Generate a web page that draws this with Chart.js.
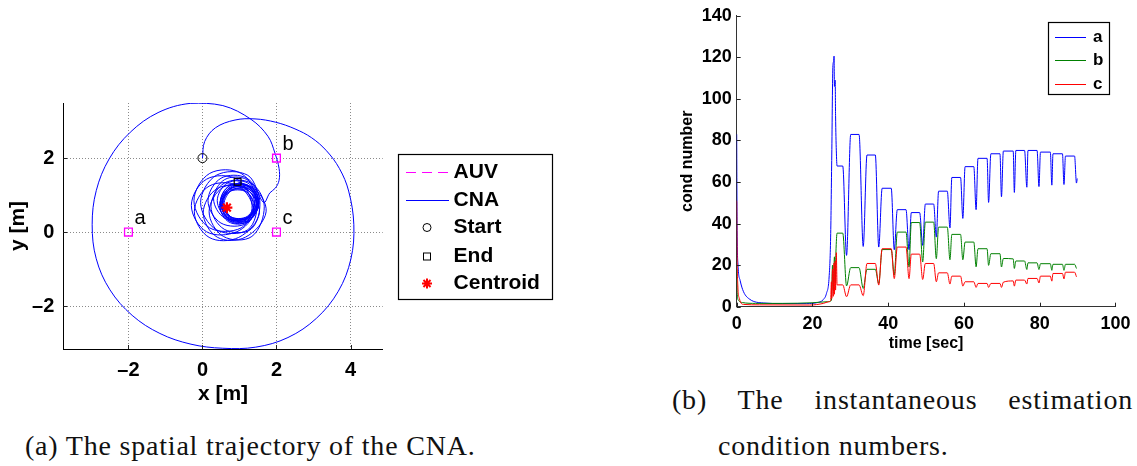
<!DOCTYPE html>
<html>
<head>
<meta charset="utf-8">
<script src="https://cdn.jsdelivr.net/npm/chart.js@4.4.1/dist/chart.umd.min.js"></script>
<style>
    body { margin: 0; background: #fff; width: 1137px; height: 466px; position: relative; overflow: hidden; }
    canvas { position: absolute; }
    #trajChart { left: 0; top: 0; width: 570px; height: 420px; }
    #condChart { left: 640px; top: 0; width: 497px; height: 360px; }
    .caption { position: absolute; font-family: "Liberation Serif", "DejaVu Serif", serif; font-size: 28px; line-height: 30px; letter-spacing: 0.8px; color: #111; white-space: nowrap; }
    #capA { left: 25px; top: 431px; }
    #capB1 { left: 672px; top: 385px; width: 461px; text-align: justify; text-align-last: justify; white-space: normal; }
    #capB2 { left: 718px; top: 431px; }
</style>
</head>
<body>
<canvas id="trajChart" width="570" height="420"></canvas>
<canvas id="condChart" width="497" height="360"></canvas>
<div class="caption" id="capA">(a) The spatial trajectory of the CNA.</div>
<div class="caption" id="capB1">(b) The instantaneous estimation</div>
<div class="caption" id="capB2">condition numbers.</div>

<script>
// ---- trajectory plot data ----
const xTicks = [-2, 0, 2, 4];
const yTicks = [-2, 0, 2];

const auvNames = ['a', 'b', 'c'];
const auvX = [-2, 2, 2];
const auvY = [0, 2, 0];

const startPos = [0, 2];
const endPos = [0.95, 1.36];
const centroidPos = [0.66, 0.66];

// first wide sweep of the CNA, from the start point around and back in
const cnaOuter = [
    [0, 2], [0.06, 2.45], [0.35, 2.82], [0.88, 3.03], [1.42, 3.06], [1.98, 2.97], [2.5, 2.79],
    [2.95, 2.55], [3.35, 2.2], [3.7, 1.72], [3.95, 1.11], [4.09, 0.2], [4.01, -0.73], [3.67, -1.60],
    [3.08, -2.33], [2.31, -2.85], [1.44, -3.11], [0.55, -3.14], [-0.31, -3.03], [-1.15, -2.74],
    [-1.90, -2.25], [-2.50, -1.56], [-2.87, -0.72], [-2.98, 0.2], [-2.87, 1.12], [-2.52, 1.98],
    [-1.95, 2.70], [-1.20, 3.23], [-0.33, 3.48], [0.55, 3.42], [1.31, 3.05], [1.77, 2.59],
    [1.96, 2.13], [2.07, 1.72], [2.07, 1.40], [1.97, 1.19], [1.82, 1.06]
];

// small loops around the centroid, ending at the end marker
const cnaLoops = [
    [1.65, 0.80], [1.225, 1.536], [0.375, 1.536], [-0.05, 0.80], [0.375, 0.064], [1.225, 0.064],
    [1.47, 0.85], [1.045, 1.586], [0.195, 1.586], [-0.23, 0.85], [0.195, 0.114], [1.045, 0.114],
    [1.34, 0.72], [0.93, 1.43], [0.11, 1.43], [-0.30, 0.72], [0.11, 0.01], [0.93, 0.01],
    [1.38, 0.55], [0.98, 1.243], [0.18, 1.243], [-0.22, 0.55], [0.18, -0.143], [0.98, -0.143],
    [1.54, 0.52], [1.16, 1.178], [0.40, 1.178], [0.02, 0.52], [0.40, -0.138], [1.16, -0.138],
    [1.72, 0.55], [1.335, 1.217], [0.565, 1.217], [0.18, 0.55], [0.565, -0.117], [1.335, -0.117],
    [1.67, 0.70], [1.31, 1.324], [0.59, 1.324], [0.23, 0.70], [0.59, 0.076], [1.31, 0.076],
    [1.55, 0.85], [1.20, 1.456], [0.50, 1.456], [0.15, 0.85], [0.50, 0.244], [1.20, 0.244],
    [1.50, 0.90], [1.20, 1.42], [0.60, 1.42], [0.30, 0.90], [0.60, 0.38], [1.20, 0.38],
    [1.50, 0.85], [1.225, 1.326], [0.675, 1.326], [0.40, 0.85], [0.675, 0.374], [1.225, 0.374],
    [1.52, 0.80], [1.26, 1.25], [0.74, 1.25], [0.48, 0.80], [0.74, 0.35], [1.26, 0.35],
    [1.52, 0.75], [1.27, 1.183], [0.77, 1.183], [0.52, 0.75], [0.77, 0.317], [1.27, 0.317],
    [1.48, 0.70], [1.24, 1.116], [0.76, 1.116], [0.52, 0.70], [0.76, 0.284], [1.24, 0.284],
    [1.42, 0.68], [1.185, 1.087], [0.715, 1.087], [0.48, 0.68], [0.715, 0.273], [1.185, 0.273],
    [1.38, 0.72], [1.15, 1.118], [0.69, 1.118], [0.46, 0.72], [0.69, 0.322], [1.15, 0.322],
    [1.41, 0.78], [1.18, 1.178], [0.72, 1.178], [0.49, 0.78], [0.72, 0.382], [1.18, 0.382],
    [1.47, 0.82], [1.235, 1.227], [0.765, 1.227], [0.53, 0.82], [0.765, 0.413], [1.235, 0.413],
    [1.53, 0.80], [1.29, 1.216], [0.81, 1.216], [0.57, 0.80], [0.81, 0.384], [1.29, 0.384],
    [1.52, 0.74], [1.285, 1.147], [0.815, 1.147], [0.58, 0.74], [0.815, 0.333], [1.285, 0.333],
    [1.46, 0.78], [1.23, 1.178], [0.77, 1.178], [0.54, 0.78], [0.77, 0.382], [1.23, 0.382],
    [1.45, 0.84], [1.21, 1.256], [0.73, 1.256], [0.49, 0.84], [0.73, 0.424], [1.21, 0.424],
    [1.43, 0.88], [1.29, 1.22], [0.95, 1.36]
];

// ---- condition number data ----
const timeTicks = [0, 20, 40, 60, 80, 100];
const condTicks = [0, 20, 40, 60, 80, 100, 120, 140];

const timeA = [0, 0.1, 0.35, 0.9, 1.8, 3.5, 7, 12, 18.5, 21.1, 22.9, 23.7, 24.4, 24.8, 25.1, 25.4, 25.6, 25.7,
    25.8, 26.0, 26.1, 26.3, 26.5, 28.0, 29.0, 30.1, 32.3, 33.4, 34.4, 36.6, 37.5, 38.4, 40.8, 41.6, 42.4,
    44.7, 45.5, 46.1, 48.3, 49.1, 49.8, 52.0, 52.7, 53.3, 55.6, 56.3, 56.8, 59.1, 59.7, 60.3, 62.6, 63.2,
    63.7, 66.1, 66.5, 67.1, 69.5, 69.9, 70.4, 73.0, 73.3, 73.7, 76.0, 76.6, 76.9, 79.3, 79.8, 80.2, 82.8,
    83.2, 83.5, 86.0, 86.4, 86.8, 89.2, 89.7, 89.9];
const condA = [83, 40, 20, 12.7, 7.2, 3.5, 1.8, 1.5, 1.5, 1.9, 3.5, 6.4, 14.3, 33.5, 73, 116, 118, 120.6,
    106, 109, 92, 75, 67.7, 67.7, 24.7, 82.9, 82.9, 29, 73, 73, 28.7, 57, 57, 27.4, 46.7,
    46.7, 27.4, 45.3, 45.3, 29.5, 49.4, 49.4, 33.5, 55.6, 55.6, 37.9, 62.2, 62.2, 42.5, 67.4, 67.4, 46.7,
    71.4, 71.4, 50.2, 73.6, 73.6, 52.9, 74.9, 74.9, 55, 75.2, 75.2, 57.5, 75.2, 75.2, 57.8, 74.4, 74.4,
    58.5, 73.6, 73.6, 58.8, 72.5, 72.5, 59.5, 61.7];

const timeB = [0, 0.15, 0.5, 1.5, 5, 12, 20, 24, 25.0, 25.3, 25.5, 25.8, 26.0, 26.2, 26.5, 28.0, 29.0, 30.1,
    32.3, 33.4, 34.4, 36.6, 37.5, 38.4, 40.8, 41.6, 42.4, 44.7, 45.5, 46.1, 48.3, 49.1, 49.8, 52.0, 52.7,
    53.3, 55.6, 56.3, 56.8, 59.1, 59.7, 60.3, 62.6, 63.2, 63.7, 66.1, 66.5, 67.1, 69.5, 69.9, 70.4, 73.0,
    73.3, 73.7, 76.0, 76.6, 76.9, 79.3, 79.8, 80.2, 82.8, 83.2, 83.5, 86.0, 86.4, 86.8, 89.2, 89.7];
const condB = [18, 6, 3, 2, 1.6, 1.6, 1.9, 2.4, 3, 20, 8, 24, 12, 26.3, 35.4, 35.4, 10, 18.8,
    18.8, 8.8, 18, 18, 11.2, 27.5, 27.5, 15.2, 35.9, 35.9, 19.1, 40.5, 40.5, 21.5, 40.7, 40.7, 23.1,
    38.3, 38.3, 22.6, 34.8, 34.8, 22.6, 31.1, 31.1, 19.2, 27.9, 27.9, 19.9, 25.5, 25.5, 19.1, 23.2, 23.0,
    18.4, 22.0, 22.0, 17.9, 21.1, 21.1, 17.9, 20.7, 20.7, 17.5, 20.4, 20.4, 17.5, 20.4, 20.4, 18.4];

const timeC = [0, 0.1, 0.3, 0.7, 1.8, 6, 19.3, 22.9, 24.3, 24.8, 25.0, 25.1, 25.3, 25.5, 25.7, 25.8, 26.0,
    26.1, 26.3, 26.5, 28.0, 29.0, 30.1, 32.3, 33.4, 34.4, 36.6, 37.5, 38.4, 40.8, 41.6, 42.4, 44.7, 45.5,
    46.1, 48.3, 49.1, 49.8, 52.0, 52.7, 53.3, 55.6, 56.3, 56.8, 59.1, 59.7, 60.3, 62.6, 63.2, 63.7, 66.1,
    66.5, 67.1, 69.5, 69.9, 70.4, 73.0, 73.3, 73.7, 76.0, 76.6, 76.9, 79.3, 79.8, 80.2, 82.8, 83.2, 83.5,
    86.0, 86.4, 86.8, 89.2, 89.7];
const condC = [51, 25, 10, 4, 1.1, 0.9, 0.8, 1.6, 2.4, 3, 12, 4, 18, 5, 21, 6, 22,
    8, 26, 10.5, 10.5, 4.8, 10.5, 10.5, 5.3, 20.8, 20.8, 10.4, 27.9, 27.9, 13.5, 28.7, 28.7, 13.5,
    25.3, 25.3, 13.1, 20.8, 20.8, 12, 16.3, 16.3, 10.9, 14.7, 14.7, 9.9, 12.0, 12.0, 9.3, 11.2, 11.2,
    9.3, 11.2, 11.2, 9.3, 11.8, 12.4, 9.9, 12.8, 12.8, 10.9, 13.6, 13.6, 11.4, 14.7, 14.7, 12.3, 16,
    16, 13.4, 16.6, 16.6, 14.4];

const seriesNames = ['a', 'b', 'c'];
const seriesColors = ['#0000ff', '#008000', '#ff0000'];

const sansFamily = "'Liberation Sans', Arial, Helvetica, sans-serif";
Chart.defaults.font.family = sansFamily;
Chart.defaults.color = '#000';

function toPoints(xs, ys) {
    return xs.map((v, i) => ({ x: v, y: ys[i] }));
}

function fmtTick(v) {
    return v < 0 ? '\u2013' + Math.abs(v) : String(v);
}

function crisp(v) {
    return Math.round(v) + 0.5;
}

// small tick marks pointing into the plot, like the MATLAB axes
const inwardTicks = {
    id: 'inwardTicks',
    afterDraw(chart) {
        const { ctx, chartArea, scales } = chart;
        ctx.save();
        ctx.strokeStyle = '#222';
        ctx.lineWidth = 1;
        ctx.beginPath();
        scales.x.ticks.forEach(t => {
            const px = crisp(scales.x.getPixelForValue(t.value));
            ctx.moveTo(px, chartArea.bottom);
            ctx.lineTo(px, chartArea.bottom - 4);
        });
        scales.y.ticks.forEach(t => {
            const py = crisp(scales.y.getPixelForValue(t.value));
            ctx.moveTo(chartArea.left, py);
            ctx.lineTo(chartArea.left + 4, py);
        });
        ctx.stroke();
        ctx.restore();
    }
};

// AUV name next to each AUV marker
const auvLabels = {
    id: 'auvLabels',
    afterDatasetsDraw(chart) {
        const { ctx, scales } = chart;
        ctx.save();
        ctx.font = '20px ' + sansFamily;
        ctx.fillStyle = '#000';
        ctx.textBaseline = 'middle';
        ctx.textAlign = 'left';
        auvNames.forEach((name, i) => {
            const px = scales.x.getPixelForValue(auvX[i]);
            const py = scales.y.getPixelForValue(auvY[i]);
            ctx.fillText(name, px + 6, py - 14);
        });
        ctx.restore();
    }
};

// boxed legend to the right of the trajectory axes
const trajLegend = {
    id: 'trajLegend',
    afterDraw(chart) {
        const { ctx, chartArea } = chart;
        const w = 154, h = 145;
        const left = Math.round(chartArea.right + 15);
        const top = Math.round((chartArea.top + chartArea.bottom) / 2 - h / 2);
        const rows = [17.7, 46, 73.3, 102, 129.3].map(r => crisp(top + r));
        const names = ['AUV', 'CNA', 'Start', 'End', 'Centroid'];
        const mx = left + 29;
        ctx.save();
        ctx.fillStyle = '#fff';
        ctx.fillRect(left, top, w, h);
        ctx.strokeStyle = '#000';
        ctx.lineWidth = 1.2;
        ctx.strokeRect(left + 0.5, top + 0.5, w, h);

        // AUV: dashed magenta
        ctx.lineWidth = 1;
        ctx.strokeStyle = '#ff00ff';
        ctx.setLineDash([10, 6]);
        ctx.beginPath();
        ctx.moveTo(left + 8, rows[0]);
        ctx.lineTo(left + 51, rows[0]);
        ctx.stroke();
        ctx.setLineDash([]);
        // CNA: solid blue
        ctx.strokeStyle = '#0000ff';
        ctx.beginPath();
        ctx.moveTo(left + 8, rows[1]);
        ctx.lineTo(left + 51, rows[1]);
        ctx.stroke();
        // Start / End markers
        ctx.strokeStyle = '#000';
        ctx.beginPath();
        ctx.arc(mx, rows[2], 4, 0, Math.PI * 2);
        ctx.stroke();
        ctx.strokeRect(mx - 3.5, rows[3] - 3.5, 7, 7);
        // Centroid: red asterisk
        ctx.strokeStyle = '#ff0000';
        ctx.fillStyle = '#ff0000';
        ctx.lineWidth = 2;
        Chart.helpers.drawPoint(ctx, { pointStyle: 'star', radius: 5, borderWidth: 2 }, mx, rows[4]);

        ctx.fillStyle = '#000';
        ctx.font = 'bold 21px ' + sansFamily;
        ctx.textBaseline = 'middle';
        ctx.textAlign = 'left';
        names.forEach((n, i) => ctx.fillText(n, left + 55.6, rows[i]));
        ctx.restore();
    }
};

// boxed legend in the upper right of the condition number axes
const condLegend = {
    id: 'condLegend',
    afterDraw(chart) {
        const { ctx, chartArea } = chart;
        const w = 61, h = 72;
        const left = Math.round(chartArea.right - 6.7 - w);
        const top = Math.round(chartArea.top + 6);
        const rows = [15, 38.3, 61.7].map(r => crisp(top + r));
        ctx.save();
        ctx.fillStyle = '#fff';
        ctx.fillRect(left, top, w, h);
        ctx.strokeStyle = '#000';
        ctx.lineWidth = 1.2;
        ctx.strokeRect(left + 0.5, top + 0.5, w, h);
        ctx.lineWidth = 1;
        ctx.font = 'bold 17px ' + sansFamily;
        ctx.textBaseline = 'middle';
        ctx.textAlign = 'left';
        seriesNames.forEach((n, i) => {
            ctx.strokeStyle = seriesColors[i];
            ctx.beginPath();
            ctx.moveTo(left + 7, rows[i]);
            ctx.lineTo(left + 38, rows[i]);
            ctx.stroke();
            ctx.fillStyle = '#000';
            ctx.fillText(n, left + 45, rows[i]);
        });
        ctx.restore();
    }
};

// ---- spatial trajectory ----
const cnaPath = cnaOuter.concat(cnaLoops);

new Chart(document.getElementById('trajChart'), {
    type: 'scatter',
    data: {
        datasets: [
            {
                label: 'CNA',
                data: toPoints(cnaPath.map(p => p[0]), cnaPath.map(p => p[1])),
                showLine: true,
                borderColor: '#0000ff',
                borderWidth: 1,
                tension: 0.36,
                pointRadius: 0,
                order: 5
            },
            {
                label: 'AUV',
                data: toPoints(auvX, auvY),
                pointStyle: 'rect',
                pointRadius: 5.5,
                pointBorderWidth: 1.3,
                pointBorderColor: '#ff00ff',
                pointBackgroundColor: 'rgba(0,0,0,0)',
                order: 1
            },
            {
                label: 'Start',
                data: toPoints([startPos[0]], [startPos[1]]),
                pointStyle: 'circle',
                pointRadius: 4.5,
                pointBorderWidth: 1,
                pointBorderColor: '#000',
                pointBackgroundColor: 'rgba(0,0,0,0)',
                order: 1
            },
            {
                label: 'End',
                data: toPoints([endPos[0]], [endPos[1]]),
                pointStyle: 'rect',
                pointRadius: 4.8,
                pointBorderWidth: 1.2,
                pointBorderColor: '#000',
                pointBackgroundColor: 'rgba(0,0,0,0)',
                order: 1
            },
            {
                label: 'Centroid',
                data: toPoints([centroidPos[0]], [centroidPos[1]]),
                pointStyle: 'star',
                pointRadius: 5.5,
                pointBorderWidth: 2.2,
                pointBorderColor: '#ff0000',
                order: 0
            }
        ]
    },
    options: {
        responsive: false,
        animation: false,
        devicePixelRatio: 1,
        layout: { padding: { left: 0, top: 103, right: 187.3, bottom: 13.4 } },
        plugins: { legend: { display: false }, tooltip: { enabled: false } },
        scales: {
            x: {
                type: 'linear',
                min: -3.76,
                max: 4.87,
                afterBuildTicks: s => { s.ticks = xTicks.map(v => ({ value: v })); },
                afterFit: s => { s.height = 57.6; },
                grid: { color: '#8a8a8a', lineWidth: 1, drawTicks: false },
                border: { color: '#000', width: 1, dash: [1, 2] },
                ticks: { padding: 9, font: { size: 20, weight: 'bold' }, callback: v => fmtTick(v), maxRotation: 0 },
                title: { display: true, text: 'x [m]', font: { size: 21, weight: 'bold' }, padding: { top: 0, bottom: 0 } }
            },
            y: {
                type: 'linear',
                min: -3.16,
                max: 3.49,
                afterBuildTicks: s => { s.ticks = yTicks.map(v => ({ value: v })); },
                afterFit: s => { s.width = 63.3; },
                grid: { color: '#8a8a8a', lineWidth: 1, drawTicks: false },
                border: { color: '#000', width: 1, dash: [1, 2] },
                ticks: { padding: 9, font: { size: 20, weight: 'bold' }, callback: v => fmtTick(v) },
                title: { display: true, text: 'y [m]', font: { size: 21, weight: 'bold' }, padding: { top: 5.4, bottom: 0 } }
            }
        }
    },
    plugins: [inwardTicks, auvLabels, trajLegend]
});

// ---- instantaneous condition numbers ----
const condSeries = [[timeA, condA], [timeB, condB], [timeC, condC]];

new Chart(document.getElementById('condChart'), {
    type: 'line',
    data: {
        datasets: condSeries.map((s, i) => ({
            label: seriesNames[i],
            data: toPoints(s[0], s[1]),
            borderColor: seriesColors[i],
            borderWidth: 1,
            pointRadius: 0,
            cubicInterpolationMode: 'monotone',
            order: 2 - i
        }))
    },
    options: {
        responsive: false,
        animation: false,
        devicePixelRatio: 1,
        layout: { padding: { left: 0, top: 14.2, right: 21, bottom: 7.1 } },
        plugins: { legend: { display: false }, tooltip: { enabled: false } },
        scales: {
            x: {
                type: 'linear',
                min: 0,
                max: 100,
                afterBuildTicks: s => { s.ticks = timeTicks.map(v => ({ value: v })); },
                afterFit: s => { s.height = 46.2; },
                grid: { display: false, drawTicks: false },
                border: { color: '#333', width: 1 },
                ticks: { padding: 6.5, font: { size: 18, weight: 'bold' }, maxRotation: 0 },
                title: { display: true, text: 'time [sec]', font: { size: 16, weight: 'bold' }, padding: { top: 0, bottom: 0 } }
            },
            y: {
                type: 'linear',
                min: 0,
                max: 140,
                afterBuildTicks: s => { s.ticks = condTicks.map(v => ({ value: v })); },
                afterFit: s => { s.width = 96.7; },
                grid: { display: false, drawTicks: false },
                border: { color: '#333', width: 1 },
                ticks: { padding: 5, font: { size: 18, weight: 'bold' } },
                title: { display: true, text: 'cond number', font: { size: 16, weight: 'bold' }, padding: { top: 38.4, bottom: 0 } }
            }
        }
    },
    plugins: [inwardTicks, condLegend]
});
</script>
</body>
</html>
